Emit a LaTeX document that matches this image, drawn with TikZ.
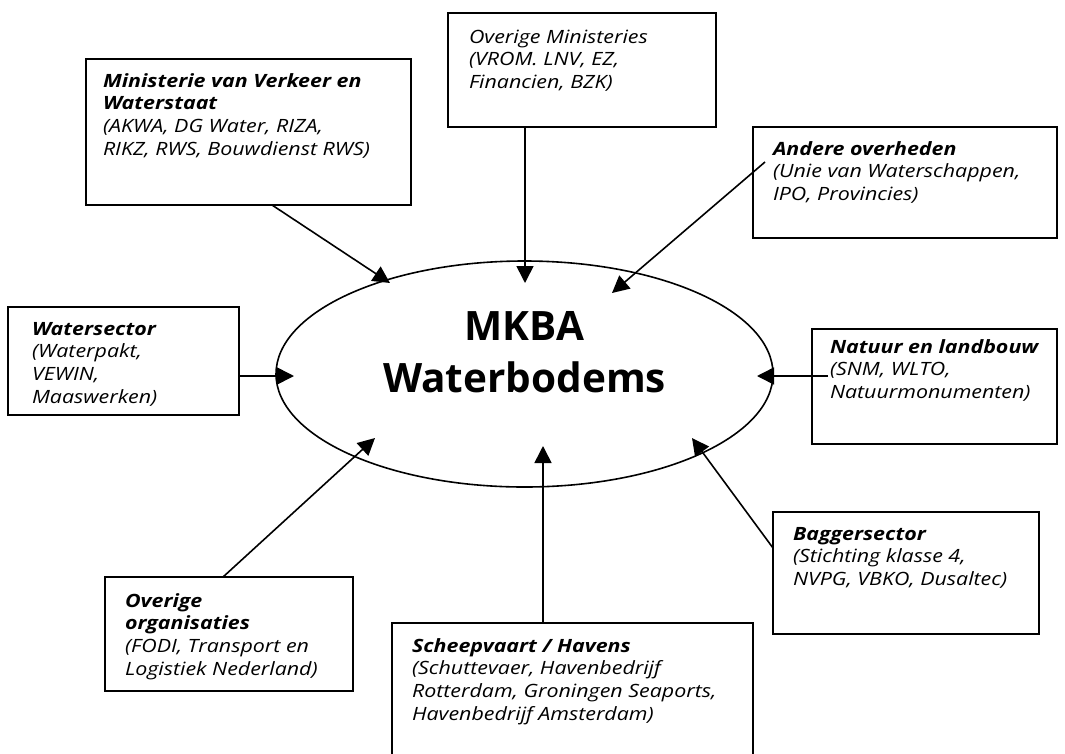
\documentclass[tikz,border=0pt]{standalone}
\usepackage{fontspec}
\setmainfont{Open Sans}
\newfontfamily\boxfont[FakeStretch=1.17]{Open Sans}
\usetikzlibrary{shapes.geometric,arrows.meta,calc}
\tikzset{
  box/.style={draw, line width=1.6pt, rectangle, inner sep=0pt, outer sep=0pt, anchor=north west},
  txt/.style={inner sep=0pt, outer sep=0pt, anchor=base west, font=\boxfont\fontsize{18.3}{22.7}\selectfont\itshape},
  conn/.style={line width=1.6pt, -{Triangle[length=17pt,width=17pt]}},
  oval/.style={draw, ellipse, line width=1.6pt, inner sep=0pt, outer sep=0pt},
  title/.style={inner sep=0pt, outer sep=0pt, anchor=base, font=\fontsize{40.5}{52}\selectfont\bfseries}
}
\newcommand{\lbox}[2]{\parbox[t]{#1}{\raggedright #2}}
\begin{document}
\begin{tikzpicture}[x=1pt,y=-1pt]
\useasboundingbox (0,0) rectangle (1065,753);
\clip (0,0) rectangle (1065,753);
\fill[white] (0,0) rectangle (1065,753);

% central ellipse
\node[oval, minimum width=497pt, minimum height=226pt] (e) at (524.5,374) {};
\node[title] (ttl) at (524.5,340) {\parbox[t]{320pt}{\centering MKBA\\Waterbodems}};

% boxes
\node[box, minimum width=325pt, minimum height=146pt] (b1) at (86,59) {};
\node[box, minimum width=268pt, minimum height=114pt] (b2) at (448,13) {};
\node[box, minimum width=304pt, minimum height=111pt] (b3) at (753,127) {};
\node[box, minimum width=231pt, minimum height=108pt] (b4) at (8,307) {};
\node[box, minimum width=245pt, minimum height=115pt] (b5) at (812,329) {};
\node[box, minimum width=266pt, minimum height=122pt] (b6) at (773,512) {};
\node[box, minimum width=248pt, minimum height=114pt] (b7) at (105,577) {};
\node[box, minimum width=361pt, minimum height=150pt] (b8) at (392,623) {};

% texts
\node[txt] (t1) at (103,87) {\lbox{310pt}{{\bfseries Ministerie van Verkeer en\\Waterstaat}\\(AKWA, DG Water, RIZA,\\RIKZ, RWS, Bouwdienst RWS)}};
\node[txt] (t2) at (469,43) {\lbox{245pt}{Overige Ministeries\\(VROM. LNV, EZ,\\Financien, BZK)}};
\node[txt] (t3) at (773,155) {\lbox{285pt}{{\bfseries Andere overheden}\\(Unie van Waterschappen,\\IPO, Provincies)}};
\node[txt] (t4) at (32,335) {\lbox{205pt}{{\bfseries Watersector}\\(Waterpakt,\\VEWIN,\\Maaswerken)}};
\node[txt] (t5) at (830,353) {\lbox{230pt}{{\bfseries Natuur en landbouw}\\(SNM, WLTO,\\Natuurmonumenten)}};
\node[txt] (t6) at (793,540) {\lbox{245pt}{{\bfseries Baggersector}\\(Stichting klasse 4,\\NVPG, VBKO, Dusaltec)}};
\node[txt] (t7) at (125,607) {\lbox{228pt}{{\bfseries Overige\\organisaties}\\(FODI, Transport en\\Logistiek Nederland)}};
\node[txt] (t8) at (412,652) {\lbox{340pt}{{\bfseries Scheepvaart / Havens}\\(Schuttevaer, Havenbedrijf\\Rotterdam, Groningen Seaports,\\Havenbedrijf Amsterdam)}};

% connector end points
\coordinate (s1) at (272,205); \coordinate (p1) at (390,283);
\coordinate (s2) at (525,127); \coordinate (p2) at (525,283);
\coordinate (s3) at (765,162); \coordinate (p3) at (612,293);
\coordinate (s4) at (239,376); \coordinate (p4) at (294,376);
\coordinate (s5) at (828,376); \coordinate (p5) at (757,376);
\coordinate (s6) at (223,577); \coordinate (p6) at (375,438);
\coordinate (s7) at (543,623); \coordinate (p7) at (543,446);
\coordinate (s8) at (773,548); \coordinate (p8) at (692,438);

\draw[conn] (s1) -- (p1);
\draw[conn] (s2) -- (p2);
\draw[conn] (s3) -- (p3);
\draw[conn] (s4) -- (p4);
\draw[conn] (s5) -- (p5);
\draw[conn] (s6) -- (p6);
\draw[conn] (s7) -- (p7);
\draw[conn] (s8) -- (p8);
\end{tikzpicture}
\end{document}
